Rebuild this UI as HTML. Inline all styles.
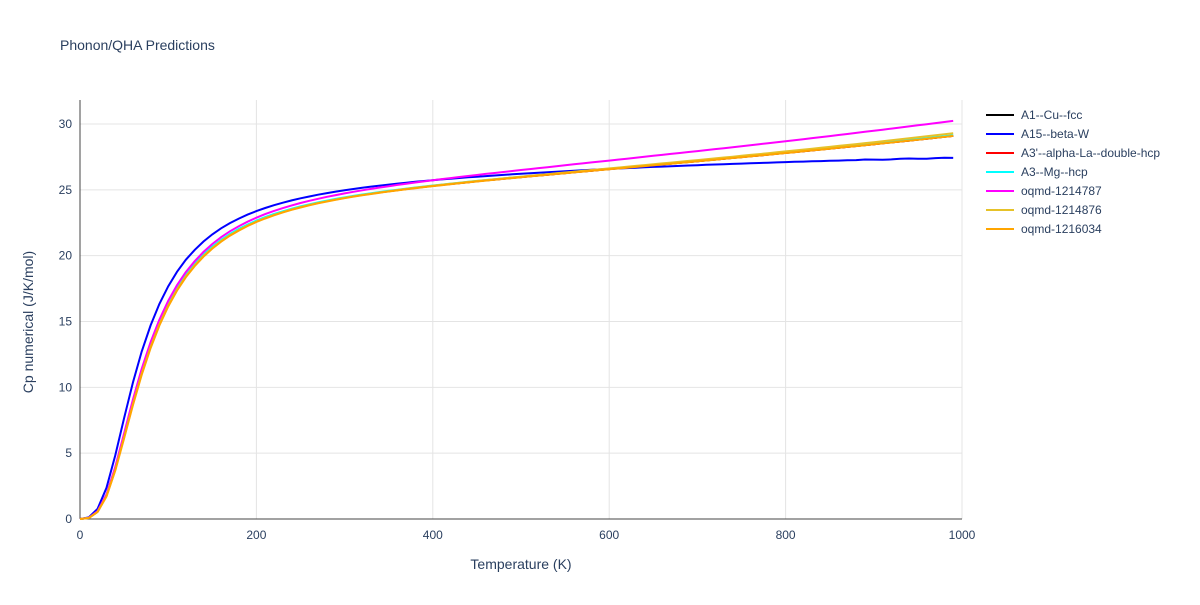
<!DOCTYPE html>
<html><head><meta charset="utf-8"><style>
body{margin:0;background:#fff;}
svg text{font-family:"Liberation Sans",Arial,sans-serif;fill:#2a3f5f;}
</style></head><body>
<svg id="s" width="1200" height="600" xmlns="http://www.w3.org/2000/svg">
<rect width="1200" height="600" fill="#fff"/>
<text x="60" y="50" font-size="14">Phonon/QHA Predictions</text>
<g id="grid"></g>
<g id="curves"></g>
<text x="521" y="569" font-size="14" text-anchor="middle">Temperature (K)</text>
<text transform="translate(33,322) rotate(-90)" font-size="14" text-anchor="middle">Cp numerical (J/K/mol)</text>
<g font-size="12" id="legend"></g>
</svg>
<script>
const X0=80,X1=962,Y0=519,Y30=124;
const sx=t=>X0+(X1-X0)*t/1000, sy=v=>Y0-(Y0-Y30)*v/30;
const NS="http://www.w3.org/2000/svg";
function el(p,tag,a,txt){const e=document.createElementNS(NS,tag);for(const k in a)e.setAttribute(k,a[k]);if(txt!==undefined)e.textContent=txt;p.appendChild(e);return e;}
const g=document.getElementById('grid');
for(let v=0;v<=30;v+=5){const y=sy(v);if(v>0)el(g,'line',{x1:X0,x2:X1,y1:y,y2:y,stroke:'#e4e4e4'});el(g,'text',{x:X0-8,y:y+4,'font-size':12,'text-anchor':'end'},v);}
for(let t=0;t<=1000;t+=200){const x=sx(t);if(t>0)el(g,'line',{x1:x,x2:x,y1:100,y2:Y0,stroke:'#e4e4e4'});el(g,'text',{x:x,y:Y0+20,'font-size':12,'text-anchor':'middle'},t);}
el(g,'line',{x1:X0,x2:X0,y1:100,y2:Y0,stroke:'#444'});
el(g,'line',{x1:X0,x2:X1,y1:Y0,y2:Y0,stroke:'#444'});
function debye(x){if(x<=0)return 1;let s=0,n=400,h=x/n;for(let i=1;i<=n;i++){const u=(i-0.5)*h;const e=Math.exp(u);s+=u**4*e/((e-1)**2)*h;}return 3/x**3*s;}
const series=[
['A1--Cu--fcc','#000',310,0.00165,2.7e-6,0],
['A15--beta-W','#0000ff',282,0.0041,-1.5e-6,1],
["A3'--alpha-La--double-hcp",'#ff0000',310,0.00165,2.7e-6,0],
['A3--Mg--hcp','#00ffff',308,0.0017,2.7e-6,0],
['oqmd-1214787','#ff00ff',306,0.0026,2.9e-6,0],
['oqmd-1214876','#e6c229',312,0.0016,2.95e-6,0],
['oqmd-1216034','#ffa500',314,0.00165,2.7e-6,0]];
const c=document.getElementById('curves'),L=document.getElementById('legend');
series.forEach((s,i)=>{let d='';for(let t=0;t<=990;t+=10){let v=t==0?0:24.94*debye(s[2]/t)+s[3]*t+s[4]*t*t;if(s[5]&&t>880)v+=0.03*Math.sin(t/7);d+=(t?'L':'M')+sx(t).toFixed(1)+','+sy(v).toFixed(1);}
el(c,'path',{d:d,fill:'none',stroke:s[1],'stroke-width':2});
const y=115+i*19;el(L,'line',{x1:986,x2:1014,y1:y,y2:y,stroke:s[1],'stroke-width':2});el(L,'text',{x:1021,y:y+4},s[0]);});
</script>
</body></html>
